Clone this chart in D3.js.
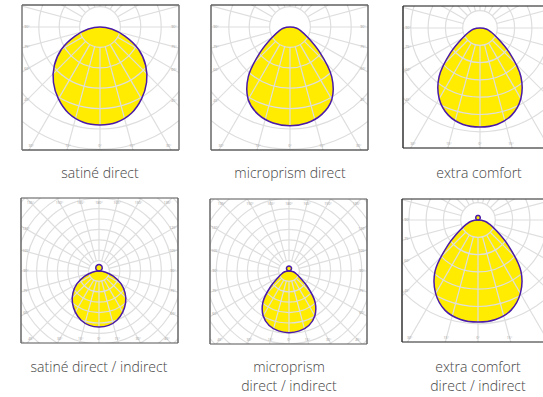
<!DOCTYPE html>
<html>
<head>
<meta charset="utf-8">
<script src="https://cdn.jsdelivr.net/npm/d3@7"></script>
<style>
  html, body { margin: 0; padding: 0; background: #fff; overflow: hidden; }
  svg { display: block; }
  text { font-family: "Open Sans", sans-serif; }
</style>
</head>
<body>
<div id="chart"></div>
<script>
// degrees from straight down, one side only (the curves are mirrored)
const angles = [0, 10, 20, 30, 40, 50, 60, 70, 80, 90];

// intensity, 100 = one grid ring
const satineDirect = [480, 474, 450, 407, 355, 292, 218, 130, 58, 0];
const microprismDirect = [484, 478, 456, 410, 318, 188, 100, 58, 34, 0];
const extraComfort = [572, 566, 536, 472, 368, 222, 118, 68, 40, 0];
const satineDI = [538, 531, 504, 456, 398, 327, 244, 146, 65, 0];
const microprismDI = [593, 585, 558, 497, 390, 228, 118, 70, 42, 0];
const extraComfortDI = [590, 584, 556, 490, 386, 228, 122, 71, 40, 0];

// upward lobes, degrees from straight up
const satineUp = [62, 61, 58, 54, 47, 40, 31, 21, 11, 0];
const microprismUp = [48, 47, 45, 42, 37, 31, 24, 16, 8, 0];
const extraComfortUp = [26, 26, 25, 23, 20, 17, 13, 9, 5, 0];

const panels = [
  { down: satineDirect, up: null, title: ['satiné direct'], tx: 100, ty: 178,
    box: [22, 5, 179, 150], cx: 100, cy: 27, step: 20.4, rings: 6, side: '#777', edge: '#111', topLabels: false },
  { down: microprismDirect, up: null, title: ['microprism direct'], tx: 290, ty: 178,
    box: [211, 5, 368, 150], cx: 290, cy: 27, step: 20.4, rings: 6, side: '#666', edge: '#111', topLabels: false },
  { down: extraComfort, up: null, title: ['extra comfort'], tx: 479, ty: 178,
    box: [403, 6, 560, 148], cx: 480, cy: 28, step: 17.3, rings: 6, side: '#333', edge: '#111', topLabels: false },
  { down: satineDI, up: satineUp, title: ['satiné direct / indirect'], tx: 99, ty: 372,
    box: [21, 198, 178, 343], cx: 99, cy: 271, step: 10.4, rings: 10, side: '#666', edge: '#555', topLabels: true },
  { down: microprismDI, up: microprismUp, title: ['microprism', 'direct / indirect'], tx: 289, ty: 372,
    box: [210, 199, 367, 344], cx: 289, cy: 271, step: 10.4, rings: 10, side: '#666', edge: '#555', topLabels: true },
  { down: extraComfortDI, up: extraComfortUp, title: ['extra comfort', 'direct / indirect'], tx: 478, ty: 372,
    box: [402, 199, 559, 342], cx: 478, cy: 220, step: 17.3, rings: 6, side: '#333', edge: '#222', topLabels: false }
];

const spokes = d3.range(0, 360, 15);
const rad = d => d * Math.PI / 180;

const svg = d3.select('#chart').append('svg').attr('width', 543).attr('height', 397);

const radial = d3.lineRadial().curve(d3.curveCatmullRomClosed.alpha(0.5));

// mirror a half curve around the given direction (180 = downward)
const mirrored = (values, dir) => {
  const half = angles.slice(0, -1).map((a, i) => [a, values[i]]);
  const pts = half.slice(1).reverse().map(d => [rad(dir - d[0]), d[1]])
    .concat(half.map(d => [rad(dir + d[0]), d[1]]));
  pts.push([0, 0]);
  return pts;
};

panels.forEach((p, idx) => {
  const [x0, y0, x1, y1] = p.box;
  const clipId = 'clip' + idx;
  svg.append('clipPath').attr('id', clipId).append('rect')
    .attr('x', x0).attr('y', y0).attr('width', x1 - x0).attr('height', y1 - y0);

  const r = d3.scaleLinear().domain([0, 100]).range([0, p.step]);
  const g = svg.append('g').attr('clip-path', `url(#${clipId})`);
  const plot = g.append('g').attr('transform', `translate(${p.cx},${p.cy})`);

  const shape = v => radial.radius(d => r(d[1])).angle(d => d[0])(v);

  const curves = [mirrored(p.down, 180)];
  if (p.up) curves.push(mirrored(p.up, 0));

  plot.selectAll('path.fill').data(curves).join('path')
    .attr('class', 'fill')
    .attr('fill', '#ffec00')
    .attr('d', shape);

  plot.selectAll('circle').data(d3.range(1, p.rings + 1)).join('circle')
    .attr('r', d => r(d * 100))
    .attr('fill', 'none')
    .attr('stroke', '#dedede')
    .attr('stroke-width', 1.2);

  plot.selectAll('line').data(spokes).join('line')
    .attr('x1', d => r(100) * Math.sin(rad(d)))
    .attr('y1', d => r(100) * Math.cos(rad(d)))
    .attr('x2', d => 300 * Math.sin(rad(d)))
    .attr('y2', d => 300 * Math.cos(rad(d)))
    .attr('stroke', '#dedede')
    .attr('stroke-width', 1.2);

  plot.selectAll('path.line').data(curves).join('path')
    .attr('class', 'line')
    .attr('fill', 'none')
    .attr('stroke', '#4a1aa8')
    .attr('stroke-width', 1.5)
    .attr('d', shape);

  // degree labels sit where each spoke reaches a rectangle just inside the frame
  const inset = { l: x0 + 5, r: x1 - 5, t: y0 + 4.5, b: y1 - 4 };
  const labels = spokes.map(d => {
    const sx = Math.sin(rad(d)), sy = Math.cos(rad(d));
    const ts = [];
    if (sx > 1e-6) ts.push((inset.r - p.cx) / sx);
    if (sx < -1e-6) ts.push((inset.l - p.cx) / sx);
    if (sy > 1e-6) ts.push((inset.b - p.cy) / sy);
    if (sy < -1e-6) ts.push((inset.t - p.cy) / sy);
    const t = d3.min(ts);
    const shown = d <= 180 ? d : 360 - d;
    return { x: p.cx + t * sx, y: p.cy + t * sy, label: shown + '°' };
  }).filter(d => d.x < 543 && (p.topLabels || d.y > y0 + 5));

  g.selectAll('text').data(labels).join('text')
    .attr('x', d => d.x)
    .attr('y', d => d.y + 1)
    .attr('text-anchor', 'middle')
    .attr('font-size', 3.5)
    .attr('fill', '#999')
    .text(d => d.label);

  // frame: the sides are drawn heavier and greyer than top and bottom
  [[x0, y0, x1, y0, p.edge, 1], [x0, y1, x1, y1, p.edge, 1],
   [x0, y0, x0, y1, p.side, 1.5], [x1, y0, x1, y1, p.side, 1.5]].forEach(s => {
    svg.append('line')
      .attr('x1', s[0]).attr('y1', s[1]).attr('x2', s[2]).attr('y2', s[3])
      .attr('stroke', s[4]).attr('stroke-width', s[5]);
  });

  svg.append('g').selectAll('text').data(p.title).join('text')
    .attr('x', p.tx)
    .attr('y', (d, i) => p.ty + i * 19)
    .attr('text-anchor', 'middle')
    .attr('font-size', 14)
    .attr('font-weight', 300)
    .attr('fill', '#444')
    .text(d => d);
});
</script>
</body>
</html>
